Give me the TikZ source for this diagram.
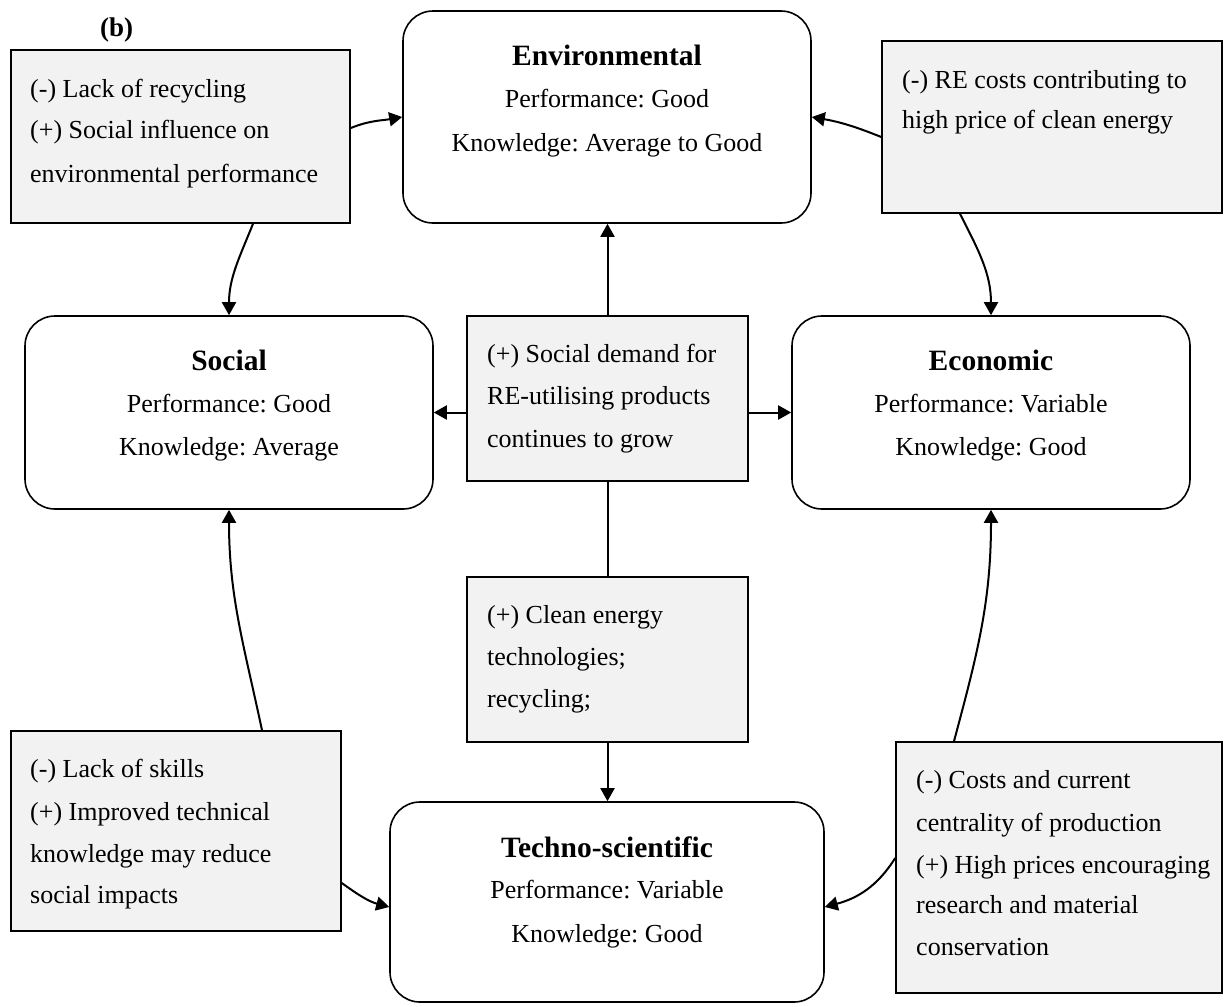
\documentclass[tikz,border=0pt]{standalone}
\usepackage{fontspec}
\setmainfont{Liberation Serif}
\usetikzlibrary{arrows.meta,calc}
\definecolor{boxgray}{HTML}{F2F2F2}
\frenchspacing
\begin{document}
\frenchspacing
\begin{tikzpicture}[x=1pt,y=-1pt,
  gbox/.style={draw, line width=1.6pt, fill=boxgray, inner sep=0pt},
  rbox/.style={draw, line width=1.6pt, fill=white, rounded corners=30pt, inner sep=0pt},
  body/.style={font=\fontsize{26}{31}\selectfont\frenchspacing, inner sep=0pt},
  ttl/.style={font=\fontsize{29.5}{35}\selectfont\bfseries, inner sep=0pt, anchor=base},
  ln/.style={body, anchor=base west},
  cl/.style={body, anchor=base},
  conn/.style={line width=2pt, -{Triangle[length=13pt,width=14pt]}},
  plain/.style={line width=2pt}
]
\fill[white] (0,0) rectangle (1224,1007);
\useasboundingbox (0,0) rectangle (1224,1007);

% boxes
\node[gbox, minimum width=339pt, minimum height=173pt] (tl) at (180.5,136.5) {};
\node[rbox, minimum width=408pt, minimum height=212pt] (env) at (607,117) {};
\node[gbox, minimum width=340pt, minimum height=172pt] (tr) at (1052,127) {};
\node[rbox, minimum width=408pt, minimum height=193pt] (soc) at (229,412.5) {};
\node[gbox, minimum width=281pt, minimum height=165pt] (ctr) at (607.5,398.5) {};
\node[rbox, minimum width=398pt, minimum height=193pt] (eco) at (991,412.5) {};
\node[gbox, minimum width=281pt, minimum height=165pt] (cln) at (607.5,659.5) {};
\node[gbox, minimum width=330pt, minimum height=200pt] (bl) at (176,831) {};
\node[rbox, minimum width=434pt, minimum height=200pt] (tec) at (607,902) {};
\node[gbox, minimum width=326pt, minimum height=251pt] (br) at (1059,867.5) {};

% label
\node[font=\fontsize{27}{32}\selectfont\bfseries, anchor=base west, inner sep=0pt] (lab) at (100,36) {(b)};

% main boxes text
\node[ttl] (env1) at (607,65) {Environmental};
\node[cl] (env2) at (607,107) {Performance: Good};
\node[cl] (env3) at (607,151) {Knowledge: Average to Good};

\node[ttl] (soc1) at (229,370) {Social};
\node[cl] (soc2) at (229,412) {Performance: Good};
\node[cl] (soc3) at (229,455) {Knowledge: Average};

\node[ttl] (eco1) at (991,370) {Economic};
\node[cl] (eco2) at (991,412) {Performance: Variable};
\node[cl] (eco3) at (991,455) {Knowledge: Good};

\node[ttl] (tec1) at (607,857) {Techno-scientific};
\node[cl] (tec2) at (607,898) {Performance: Variable};
\node[cl] (tec3) at (607,942) {Knowledge: Good};

% grey boxes text
\node[ln] (tl1) at (30,97) {(-) Lack of recycling};
\node[ln] (tl2) at (30,138) {(+) Social influence on};
\node[ln] (tl3) at (30,182) {environmental performance};

\node[ln] (tr1) at (902,88) {(-) RE costs contributing to};
\node[ln] (tr2) at (902,128) {high price of clean energy};

\node[ln] (ctr1) at (487,362) {(+) Social demand for};
\node[ln] (ctr2) at (487,404) {RE-utilising products};
\node[ln] (ctr3) at (487,447) {continues to grow};

\node[ln] (cln1) at (487,623) {(+) Clean energy};
\node[ln] (cln2) at (487,665) {technologies;};
\node[ln] (cln3) at (487,707) {recycling;};

\node[ln] (bl1) at (30,777) {(-) Lack of skills};
\node[ln] (bl2) at (30,820) {(+) Improved technical};
\node[ln] (bl3) at (30,862) {knowledge may reduce};
\node[ln] (bl4) at (30,903) {social impacts};

\node[ln] (br1) at (916,788) {(-) Costs and current};
\node[ln] (br2) at (916,831) {centrality of production};
\node[ln] (br3) at (916,873) {(+) High prices encouraging};
\node[ln] (br4) at (916,913) {research and material};
\node[ln] (br5) at (916,955) {conservation};

% connectors
\draw[conn] ([yshift=8.5pt]tl.east) to[out=22,in=190] (env.west);
\draw[conn] ([xshift=72.5pt]tl.south) to[out=-112,in=90] (soc.north);
\draw[conn] ([yshift=-10pt]tr.west) to[out=158,in=-10] (env.east);
\draw[conn] ([xshift=-92pt]tr.south) to[out=-63,in=90] (eco.north);
\draw[conn] (ctr.north) -- (ctr.north |- env.south);
\draw[conn] (soc.east -| ctr.west) -- (soc.east);
\draw[conn] (eco.west -| ctr.east) -- (eco.west);
\draw[plain] (ctr.south) -- (cln.north);
\draw[conn] (cln.south) -- (cln.south |- tec.north);
\draw[conn] ([xshift=86pt]bl.north) to[out=102,in=-90] (soc.south);
\draw[conn] ([yshift=-52pt]bl.east) to[out=-36,in=165] ([yshift=-5pt]tec.west);
\draw[conn] ([xshift=-105pt]br.north) to[out=75,in=-90] (eco.south);
\draw[conn] ([yshift=9.5pt]br.west) to[out=-122,in=15] ([yshift=-5pt]tec.east);
\end{tikzpicture}
\end{document}
